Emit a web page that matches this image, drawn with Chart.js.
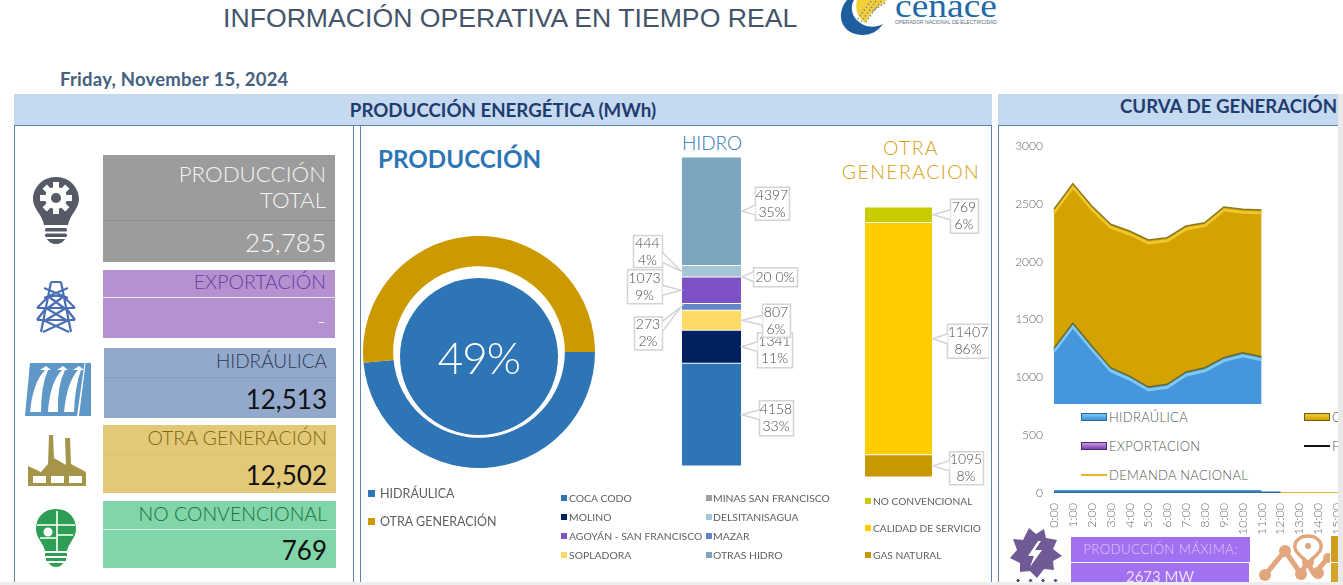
<!DOCTYPE html>
<html lang="es"><head><meta charset="utf-8">
<script src="https://cdn.jsdelivr.net/npm/chart.js@4"></script>
<style>
html,body{margin:0;padding:0;background:#fff;overflow:hidden;width:1343px;height:585px}
#page{position:relative;width:1343px;height:585px;overflow:hidden;font-family:Lato,sans-serif;background:#fff}
.a{position:absolute;white-space:nowrap;box-sizing:border-box}
.band{background:#c5d9f1;color:#1f3c6e;font-weight:700;font-size:18.7px;text-align:center;border-bottom:1px solid #5b84b0}
.panel{border:1px solid #5b84b0;border-top:0;border-bottom:0}
.card{font-weight:300;text-align:right;padding-right:9px}
.div{height:1px}
.lg{font-size:11px;color:#5f5f5f;font-weight:400}
canvas{position:absolute}
</style></head><body><div id="page">

<div class="a" id="t" style="left:223px;top:3px;font:26.65px 'Liberation Sans',sans-serif;color:#44546a">INFORMACIÓN OPERATIVA EN TIEMPO REAL</div>

<!-- logo -->
<svg class="a" style="left:835px;top:0" width="170" height="40" viewBox="0 0 170 40">
<path d="M22,0 L52,0 L37,12 L30,23 C24,18 19,10 22,0Z" fill="#f3cf3a"/>
<g stroke="#7f8f86" stroke-width="1.5" stroke-dasharray="1.5 2" fill="none"><path d="M36,1 L22,20 M41,1 L26,22 M46,1 L30,23 M50,3 L36,12"/></g>
<path d="M12,0 C0,14 6,35 28,35 C36,35 43,31 48,24 C38,29 27,27 20,18 C16,12 16,5 19,0Z" fill="#1f5e9e"/>
<text x="60" y="17" font-family="Liberation Serif" font-size="33" fill="#1f6aa8" textLength="102" lengthAdjust="spacingAndGlyphs">cenace</text>
<text x="60" y="23.5" font-family="Liberation Sans" font-size="4.6" fill="#5a6c80" textLength="102" lengthAdjust="spacingAndGlyphs">OPERADOR NACIONAL DE ELECTRICIDAD</text>
</svg>

<div class="a" style="left:60px;top:68px;font-weight:700;font-size:18.5px;color:#44607f;letter-spacing:.24px">Friday, November 15, 2024</div>

<div class="a band" style="left:14px;top:94px;width:978px;height:32px;line-height:32px">PRODUCCIÓN ENERGÉTICA (MWh)</div>
<div class="a band" style="left:998px;top:94px;width:345px;height:32px;line-height:25px;text-align:left;padding-left:122px;font-size:18.65px">CURVA DE GENERACIÓN</div>
<div class="a panel" style="left:14px;top:126px;width:340px;height:456px"></div>
<div class="a panel" style="left:360px;top:126px;width:632px;height:456px"></div>
<div class="a panel" style="left:998px;top:126px;width:345px;height:456px;border-right:0"></div>

<!-- KPI cards -->
<div class="a" style="left:103px;top:155px;width:232px;height:107px;background:#9c9c9c"></div>
<div class="a div" style="left:103px;top:220px;width:232px;background:#8d8d8d"></div>
<div class="a card" style="left:103px;top:161px;width:232px;font-size:22.3px;line-height:26px;color:#f4f4f4">PRODUCCIÓN<br>TOTAL</div>
<div class="a card" style="left:103px;top:226px;width:232px;font-size:26px;color:#f8f8f8">25,785</div>

<div class="a" style="left:103px;top:270px;width:232px;height:68px;background:#b491cf"></div>
<div class="a div" style="left:103px;top:297px;width:232px;background:#ece3f3"></div>
<div class="a card" style="left:103px;top:270px;width:232px;font-size:19.5px;color:#6a3ea5">EXPORTACIÓN</div>
<div class="a card" style="left:103px;top:306px;width:232px;font-size:24px;color:#f4f4f4">-</div>

<div class="a" style="left:104px;top:348px;width:232px;height:70px;background:#93a9cc"></div>
<div class="a div" style="left:104px;top:377px;width:232px;background:#869ec4"></div>
<div class="a card" style="left:104px;top:349px;width:232px;font-size:19px;color:#2b3a55">HIDRÁULICA</div>
<div class="a card" style="left:104px;top:383px;width:232px;font-size:26px;color:#111;font-weight:400">12,513</div>

<div class="a" style="left:103px;top:425px;width:233px;height:68px;background:#e3c878"></div>
<div class="a div" style="left:103px;top:454px;width:233px;background:#dcc06c"></div>
<div class="a card" style="left:103px;top:426px;width:233px;font-size:19.5px;color:#7d6a12">OTRA GENERACIÓN</div>
<div class="a card" style="left:103px;top:459px;width:233px;font-size:26px;color:#111;font-weight:400">12,502</div>

<div class="a" style="left:103px;top:501px;width:233px;height:67px;background:#80d6a8"></div>
<div class="a div" style="left:103px;top:529px;width:233px;background:#d5f1e2"></div>
<div class="a card" style="left:103px;top:502px;width:233px;font-size:19.5px;color:#1f6e44">NO CONVENCIONAL</div>
<div class="a card" style="left:103px;top:534px;width:233px;font-size:26px;color:#111;font-weight:400">769</div>

<!-- icons -->
<svg class="a" style="left:30px;top:172px" width="52" height="76" viewBox="0 0 52 76">
<path d="M26,5 C11,5 3,17 3,27 C3,37 12,42 14,53 L38,53 C40,42 49,37 49,27 C49,17 41,5 26,5Z" fill="#555a66"/>
<rect x="15" y="56" width="22" height="3.5" rx="1.5" fill="#555a66"/><rect x="15" y="61.5" width="22" height="3.5" rx="1.5" fill="#555a66"/><path d="M17,67 H35 Q32,72 26,72 Q20,72 17,67Z" fill="#555a66"/>
<g fill="#fff"><circle cx="26" cy="26" r="11"/><g><rect x="23" y="10" width="6" height="32"/><rect x="10" y="23" width="32" height="6"/><rect x="23" y="10" width="6" height="32" transform="rotate(45 26 26)"/><rect x="23" y="10" width="6" height="32" transform="rotate(-45 26 26)"/></g></g><circle cx="26" cy="26" r="5" fill="#555a66"/>
</svg>
<svg class="a" style="left:36px;top:280px" width="40" height="55" viewBox="0 0 40 55" fill="none" stroke="#4a6fb5" stroke-width="2.2">
<path d="M15,2 L5,52 M25,2 L35,52 M15,2 L25,2 M12,16 L28,28 M28,16 L12,28 M10,28 L30,40 M30,28 L10,40 M7,40 L33,52 M33,40 L7,52 M8,8 L32,18 M32,8 L8,18 M12,16 H28 M10,28 H30 M7,40 H33 M1,28 L13,16 M39,28 L27,16 M1,28 H39 M1,40 L10,28 M39,40 L30,28 M1,40 H39"/></svg>
<svg class="a" style="left:25px;top:360px" width="66" height="56" viewBox="0 0 66 56">
<path d="M5,3 H62 L66,3 V56 H0 Z" fill="#5f97c7"/>
<path d="M5,52 Q8,22 20,10 L15,10 L21,6 L26,10 L23,10 Q16,26 16,52Z M23,52 Q25,22 37,10 L32,10 L38,6 L43,10 L40,10 Q32,26 33,52Z M39,52 Q42,22 53,10 L48,10 L54,6 L59,10 L56,10 Q50,26 49,52Z" fill="#fff"/>
<path d="M52,56 L60,0 L61,0 L54,56Z" fill="#fff"/></svg>
<svg class="a" style="left:28px;top:434px" width="59" height="54" viewBox="0 0 59 54" fill="#a49549">
<path d="M21,1 H25 L26,24 L38,31 L37,4 H42 L43,30 L58,38 V52 H0 V32 L13,38 L20,30Z"/>
<rect x="5" y="42" width="13" height="7" fill="#fff"/><rect x="23" y="42" width="13" height="7" fill="#fff"/><rect x="41" y="42" width="13" height="7" fill="#fff"/></svg>
<svg class="a" style="left:35px;top:508px" width="42" height="60" viewBox="0 0 42 60">
<path d="M21,1 C8,1 1,10 1,21 C1,30 8,34 10,43 H32 C34,34 41,30 41,21 C41,10 34,1 21,1Z" fill="#2f9e55"/>
<rect x="10" y="45" width="22" height="3" fill="#2f9e55"/><rect x="11" y="50" width="20" height="3" fill="#2f9e55"/><path d="M14,55 H28 Q26,59 21,59 Q16,59 14,55Z" fill="#2f9e55"/>
<g stroke="#fff" stroke-width="1.6" fill="none"><path d="M22,3 V43 M2,17 H40 M22,27 H38 M5,30 H22"/><circle cx="13" cy="24" r="4.5" fill="#fff" stroke="none"/></g></svg>
<svg class="a" style="left:1007px;top:526px" width="56" height="54" viewBox="0 0 56 54">
<path d="M22,2 L29,8 L37,3 L39,12 L50,14 L46,23 L55,30 L46,35 L47,44 L37,43 L30,52 L23,45 L13,46 L13,37 L3,32 L10,24 L6,13 L16,14Z" fill="#6f5a96"/>
<path d="M31,15 L21,30 L27,30 L23,41 L35,24 L28,24 L34,15Z" fill="#fff"/></svg>
<svg class="a" style="left:1258px;top:533px" width="72" height="52" viewBox="0 0 72 52">
<g fill="none" stroke="#e2a67e" stroke-width="5" stroke-linecap="round" stroke-linejoin="round"><path d="M7,42 L27,18 L43,41 L49,29 L56,41 L70,25"/></g>
<g fill="#e2a67e"><circle cx="7" cy="42" r="6"/><circle cx="27" cy="18" r="6"/><circle cx="43" cy="41" r="6"/><circle cx="50" cy="29" r="6"/><circle cx="60" cy="40" r="6"/><circle cx="70" cy="25" r="5"/></g>
<path d="M50,3 C41,3 36,9 37,15 C38,21 45,24 50,30 C55,24 62,21 63,15 C64,9 59,3 50,3Z" fill="#fff" stroke="#e2a67e" stroke-width="3.5"/><circle cx="50" cy="13" r="3" fill="#e2a67e"/></svg>

<!-- donut -->
<canvas id="donut" style="left:363px;top:236px" width="232" height="232"></canvas>
<div class="a" style="left:400px;top:278px;width:158px;height:157px;border-radius:50%;background:#2e75b6"></div>
<div class="a" style="left:400px;top:327px;width:158px;text-align:center;color:#fff;font-weight:300;font-size:44px;line-height:60px;letter-spacing:-1px">49%</div>

<div class="a" style="left:378px;top:144px;font-weight:700;font-size:24.2px;color:#2e75b6;line-height:30px">PRODUCCIÓN</div>
<div class="a" style="left:612px;top:131px;width:200px;text-align:center;font-weight:300;font-size:19px;color:#2e75b6;line-height:24px">HIDRO</div>
<div class="a" style="left:811px;top:136px;width:200px;text-align:center;font-weight:300;font-size:19.5px;color:#d39f12;line-height:23.5px;letter-spacing:1.4px">OTRA<br>GENERACION</div>

<canvas id="hidro" style="left:620px;top:150px" width="183" height="340"></canvas>
<canvas id="otra" style="left:808px;top:150px" width="181" height="340"></canvas>

<div id="legends"></div>

<!-- area chart -->
<canvas id="curva" style="left:1000px;top:131px" width="488" height="455"></canvas>
<div class="a" id="lgbox" style="left:1054px;top:404px;width:289px;height:86px;background:#fff"></div>

<!-- bottom boxes -->
<div class="a" style="left:1071px;top:537px;width:179px;height:25px;background:#a271f2;color:#dcc9fb;font-weight:300;font-size:13.4px;text-align:center;line-height:25px;letter-spacing:.3px">PRODUCCIÓN MÁXIMA:</div>
<div class="a" style="left:1071px;top:563px;width:178px;height:20px;background:#a271f2;color:#e9dcfd;font-size:15px;text-align:center;line-height:26px;overflow:hidden;font-weight:400">2673 MW</div>
<div class="a" style="left:1331px;top:536px;width:7px;height:26px;background:#cf9e1c"></div>
<div class="a" style="left:1331px;top:563px;width:7px;height:20px;background:#d3a52a"></div>
<div class="a" style="left:1016px;top:579px;width:48px;height:3px;background:radial-gradient(circle at 2px 1.5px,#5a4a80 1.4px,transparent 1.8px) 0 0/12.5px 3px repeat-x"></div>
<!-- window edge strips -->
<div class="a" style="left:1338px;top:94px;width:5px;height:491px;background:#e9e9e9"></div>
<div class="a" style="left:0;top:582px;width:1343px;height:3px;background:#eeeeee"></div>
</div>
<script>
// ---------- data ----------
const prodLabels = ['HIDRÁULICA','OTRA GENERACIÓN'];
const prodValues = [12513,13271];
const prodColors = ['#2e75b6','#cc9900'];

const hidroLabels = ['COCA CODO','MOLINO','SOPLADORA','MAZAR','AGOYÁN - SAN FRANCISCO','MINAS SAN FRANCISCO','DELSITANISAGUA','OTRAS HIDRO'];
const hidroValues = [4158,1341,807,273,1073,20,444,4397];
const hidroPct = ['33%','11%','6%','2%','9%','0%','4%','35%'];
const hidroColors = ['#2e75b6','#002060','#ffd966','#6088c8','#7d51c8','#a0a0a0','#a5c6d8','#7aa6c0'];

const otraLabels = ['GAS NATURAL','CALIDAD DE SERVICIO','NO CONVENCIONAL'];
const otraValues = [1095,11407,769];
const otraPct = ['8%','86%','6%'];
const otraColors = ['#c89800','#ffcc00','#c8cc00'];

const hours = ['0:00','1:00','2:00','3:00','4:00','5:00','6:00','7:00','8:00','9:00','10:00','11:00','12:00','13:00','14:00','15:00','16:00','17:00','18:00','19:00','20:00','21:00','22:00','23:00'];
const curvaHidro = [1251,1467,1271,1083,1011,916,940,1046,1083,1170,1213,1178];
const curvaOtra  = [1202,1206,1210,1240,1254,1271,1267,1262,1254,1303,1240,1269];
const curvaExport = [0,0,0,0,0,0,0,0,0,0,0,0,0];
const curvaDemanda = [0,0,0,0,0,0,0,0,0,0,0,0,0,0,0,0,0,0,0,0,0,0,0,0];
const yTicks = [0,500,1000,1500,2000,2500,3000];

// ---------- callout layout (side, gap from bar, box w/h, shift from segment centre) ----------
const hidroBoxes = [
 {s:1,g:18,w:34,h:35,d:3},{s:1,g:16,w:35,h:35,d:3},{s:1,g:21,w:28,h:33,d:0},{s:-1,g:20,w:28,h:33,d:26},
 {s:-1,g:20,w:35,h:34,d:-4},{s:1,g:12,w:44,h:19,d:0,inline:true},{s:-1,g:20,w:29,h:32,d:-20},{s:1,g:14,w:34,h:33,d:-8}];
const otraBoxes = [{s:1,g:17,w:34,h:33,d:2},{s:1,g:15,w:42,h:34,d:2},{s:1,g:18,w:28,h:34,d:1}];

// ---------- legends ----------
const lgHost = document.getElementById('legends');
function lg(text,color,x,y,size,gap){
  const sw=document.createElement('div');sw.className='a';
  const s=size>11.5?7:6;
  sw.style.cssText=`left:${x}px;top:${y-s/2}px;width:${s}px;height:${s}px;background:${color}`;
  const t=document.createElement('div');t.className='a lg';t.textContent=text;
  t.style.cssText=`left:${x+gap}px;top:${y-9}px;line-height:18px;font-size:${size}px`;
  lgHost.append(sw,t);
}
lg(prodLabels[0],prodColors[0],368,493.5,12.5,12);
lg(prodLabels[1],prodColors[1],368,521.5,12.5,12);
lg('COCA CODO',hidroColors[0],561,498,10.4,8);
lg('MOLINO',hidroColors[1],561,517,10.4,8);
lg('AGOYÁN - SAN FRANCISCO',hidroColors[4],561,536,10.4,8);
lg('SOPLADORA',hidroColors[2],561,555,10.4,8);
lg('MINAS SAN FRANCISCO',hidroColors[5],706,498,10.4,7);
lg('DELSITANISAGUA',hidroColors[6],706,517,10.4,7);
lg('MAZAR',hidroColors[3],706,536,10.4,7);
lg('OTRAS HIDRO',hidroColors[7],706,555,10.4,7);
lg(otraLabels[2],otraColors[2],865,501,10.2,8);
lg(otraLabels[1],otraColors[1],865,528,10.2,8);
lg(otraLabels[0],otraColors[0],865,555,10.2,8);

const box=document.getElementById('lgbox');
function cl(text,color,x,y,kind){
  const sw=document.createElement('div');sw.className='a';
  if(kind==='area')sw.style.cssText=`left:${x}px;top:${y-4}px;width:26px;height:8px;background:linear-gradient(${color[1]},${color[0]});border:1px solid ${color[2]}`;
  else sw.style.cssText=`left:${x}px;top:${y-1}px;width:26px;height:2px;background:${color}`;
  const t=document.createElement('div');t.className='a';t.textContent=text;
  t.style.cssText=`left:${x+28}px;top:${y-9}px;line-height:18px;font-size:13px;font-weight:300;color:#555;letter-spacing:.3px`;
  box.append(sw,t);
}
cl('HIDRAÚLICA',['#3f93d8','#7cc6f2','#2a6a9c'],27,13,'area');
cl('OTRA GENERACIÓN',['#d4a300','#f0c93a','#6e5c10'],250,13,'area');
cl('EXPORTACION',['#7d3fb0','#c49ae0','#4a2a70'],27,42,'area');
cl('FRONTERA','#111',250,42,'line');
cl('DEMANDA NACIONAL','#e5b82c',27,71,'line');

// ---------- plugins ----------
const calloutPlugin={id:'callout',afterDatasetsDraw(ch,_,o){
  const ctx=ch.ctx;
  ctx.save();
  const order=o.order||ch.data.datasets.map((_,i)=>i);
  order.forEach(i=>{
    const b=o.boxes[i],el=ch.getDatasetMeta(i).data[0];
    const p=el.getProps(['x','y','base','width']);
    const cy=(p.y+p.base)/2, edge=p.x+b.s*p.width/2;
    const near=edge+b.s*b.g, bx=b.s>0?near:near-b.w, by=cy+b.d-b.h/2;
    const ny=Math.min(Math.max(cy,by+b.h*0.3),by+b.h*0.7);
    ctx.fillStyle='#fff';ctx.strokeStyle='#d4d4d4';ctx.lineWidth=1.5;
    ctx.beginPath();
    ctx.rect(bx+.5,by+.5,b.w,b.h);ctx.fill();ctx.stroke();
    ctx.beginPath();
    ctx.moveTo(near+.5,ny-5);ctx.lineTo(edge+b.s,cy);ctx.lineTo(near+.5,ny+5);
    ctx.closePath();ctx.fill();
    ctx.beginPath();
    ctx.moveTo(near+.5,ny-5);ctx.lineTo(edge+b.s,cy);ctx.lineTo(near+.5,ny+5);ctx.stroke();
    ctx.fillStyle='#4d4d4d';ctx.font='300 14px Lato';ctx.textAlign='center';ctx.textBaseline='middle';
    const v=ch.data.datasets[i].data[0],pc=o.pct[i];
    if(b.inline){ctx.fillText(v+' '+pc,bx+b.w/2,by+b.h/2+.5);}
    else{ctx.fillText(v,bx+b.w/2,by+b.h/2-8);ctx.fillText(pc,bx+b.w/2,by+b.h/2+9);}
  });
  ctx.restore();
}};
const bevelPlugin={id:'bevel',afterDatasetsDraw(ch,_,o){
  const ctx=ch.ctx;ctx.save();
  o.items.forEach(it=>{
    const pts=ch.getDatasetMeta(it.i).data.filter(p=>!p.skip);
    [[it.hi,3,3],[it.edge,1.5,0]].forEach(([c,w,dy])=>{
      ctx.strokeStyle=c;ctx.lineWidth=w;ctx.beginPath();
      pts.forEach((p,k)=>k?ctx.lineTo(p.x,p.y+dy):ctx.moveTo(p.x,p.y+dy));ctx.stroke();
    });
  });
  ctx.restore();
}};

// ---------- charts ----------
Chart.defaults.font.family='Lato';
Chart.defaults.animation=false;
Chart.defaults.responsive=false;
Chart.defaults.plugins.legend.display=false;
Chart.defaults.plugins.tooltip.enabled=false;

new Chart('donut',{type:'doughnut',data:{labels:prodLabels,datasets:[{data:prodValues,backgroundColor:prodColors,borderWidth:0}]},
 options:{rotation:90,cutout:'74%',layout:{padding:0}}});

function stackBar(id,labels,values,colors,pct,boxes,sum,thick,bottom,top,order){
  new Chart(id,{type:'bar',plugins:[calloutPlugin],
   data:{labels:[''],datasets:values.map((v,i)=>({label:labels[i],data:[v],backgroundColor:colors[i],barThickness:thick,
     borderColor:'#fff',borderWidth:{top:.8,bottom:.8,left:0,right:0},borderSkipped:false}))},
   options:{layout:{padding:{top,bottom}},
    scales:{x:{stacked:true,display:false},y:{stacked:true,display:false,min:0,max:sum}},
    plugins:{callout:{boxes,pct,order}}}});
}
stackBar('hidro',hidroLabels,hidroValues,hidroColors,hidroPct,hidroBoxes,12513,59,24,7,[7,6,5,4,3,0,1,2]);
stackBar('otra',otraLabels,otraValues,otraColors,otraPct,otraBoxes,13271,67,13,57);

new Chart('curva',{type:'line',plugins:[bevelPlugin],
 data:{labels:hours,datasets:[
  {label:'HIDRAÚLICA',data:curvaHidro,backgroundColor:'#4596dc',borderWidth:0,fill:'origin',pointRadius:0,tension:0,stack:'a',order:3},
  {label:'OTRA GENERACIÓN',data:curvaOtra,backgroundColor:'#d4a300',borderWidth:0,fill:'-1',pointRadius:0,tension:0,stack:'a',order:4},
  {label:'EXPORTACION',data:curvaExport,borderColor:'#2f6a9c',borderWidth:3,fill:false,pointRadius:0,stack:'b',order:1},
  {label:'DEMANDA NACIONAL',data:curvaDemanda,borderColor:'#e5b82c',borderWidth:2,fill:false,pointRadius:0,stack:'c',order:2}
 ]},
 options:{layout:{padding:{top:15,left:0,right:0,bottom:0}},
  scales:{
   x:{offset:false,grid:{display:false},border:{display:false},
      ticks:{autoSkip:false,minRotation:90,maxRotation:90,color:'#666',padding:2,font:{size:12.5,weight:'300'}},
      afterFit(s){s.height=93;s.paddingLeft=0;s.paddingRight=0;}},
   y:{stacked:true,min:0,max:3000,grid:{display:false},border:{display:false},
      afterBuildTicks(s){s.ticks=yTicks.map(v=>({value:v}));},
      ticks:{color:'#666',padding:3,font:{size:12,weight:'300'},callback:v=>String(v)},
      afterFit(s){s.width=54;s.paddingTop=0;s.paddingBottom=0;}}
  },
  plugins:{bevel:{items:[
    {i:1,hi:'#efc62e',edge:'#8a7a18'},{i:0,hi:'#7cc8f4',edge:'#6a6a30'}]}}}});
</script>
</body></html>
